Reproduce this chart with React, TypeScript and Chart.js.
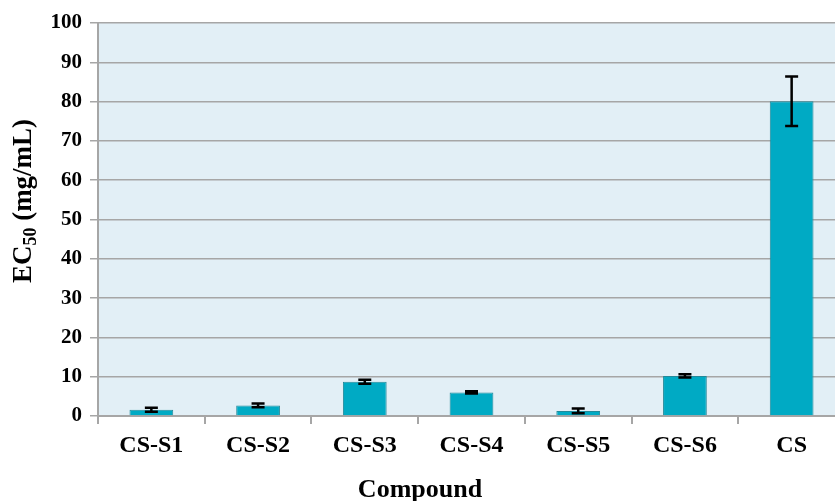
import React, { useEffect, useRef } from "react";
import { Chart, registerables } from "chart.js";

Chart.register(...registerables);

const categories = ["CS-S1", "CS-S2", "CS-S3", "CS-S4", "CS-S5", "CS-S6", "CS"];
const ec50Values = [1.6, 2.7, 8.7, 6.0, 1.3, 10.2, 80.1];
const ec50Errors = [0.5, 0.5, 0.5, 0.3, 0.6, 0.4, 6.3];
const yTicks = [0, 10, 20, 30, 40, 50, 60, 70, 80, 90, 100];

const SERIF = '"Liberation Serif", "Times New Roman", serif';

const plotBackground = {
  id: "plotBackground",
  beforeDraw(chart: any) {
    const { ctx, chartArea } = chart;
    ctx.save();
    ctx.fillStyle = "#E2EFF6";
    ctx.fillRect(chartArea.left, chartArea.top, chartArea.right - chartArea.left, chartArea.bottom - chartArea.top);
    ctx.restore();
  },
};

const errorBars = {
  id: "errorBars",
  afterDatasetsDraw(chart: any) {
    const { ctx } = chart;
    const meta = chart.getDatasetMeta(0);
    const y = chart.scales.y;
    ctx.save();
    ctx.strokeStyle = "#000";
    ctx.lineWidth = 2.5;
    meta.data.forEach((bar: any, i: number) => {
      const v = ec50Values[i];
      const e = ec50Errors[i];
      const top = y.getPixelForValue(v + e);
      const bot = y.getPixelForValue(v - e);
      const half = 6.5;
      ctx.beginPath();
      ctx.moveTo(bar.x, top);
      ctx.lineTo(bar.x, bot);
      ctx.moveTo(bar.x - half, top);
      ctx.lineTo(bar.x + half, top);
      ctx.moveTo(bar.x - half, bot);
      ctx.lineTo(bar.x + half, bot);
      ctx.stroke();
    });
    ctx.restore();
  },
};

const axisTitles = {
  id: "axisTitles",
  afterDraw(chart: any) {
    const { ctx } = chart;
    ctx.save();
    ctx.fillStyle = "#000";
    // x-axis title
    ctx.font = `bold 26px ${SERIF}`;
    ctx.textAlign = "center";
    ctx.textBaseline = "middle";
    ctx.fillText("Compound", 420, 490);

    // y-axis title with subscript
    const main = `bold 27px ${SERIF}`;
    const sub = `bold 18px ${SERIF}`;
    ctx.font = main;
    const w1 = ctx.measureText("EC").width;
    const w3 = ctx.measureText(" (mg/mL)").width;
    ctx.font = sub;
    const w2 = ctx.measureText("50").width;
    const total = w1 + w2 + w3;
    ctx.translate(31, 201);
    ctx.rotate(-Math.PI / 2);
    ctx.textAlign = "left";
    ctx.textBaseline = "alphabetic";
    let x = -total / 2;
    ctx.font = main;
    ctx.fillText("EC", x, 0);
    x += w1;
    ctx.font = sub;
    ctx.fillText("50", x, 5);
    x += w2;
    ctx.font = main;
    ctx.fillText(" (mg/mL)", x, 0);
    ctx.restore();
  },
};

export default function App() {
  const canvasRef = useRef<HTMLCanvasElement>(null);

  useEffect(() => {
    const canvas = canvasRef.current;
    if (!canvas) return;
    const chart = new Chart(canvas, {
      type: "bar",
      data: {
        labels: categories,
        datasets: [
          {
            data: ec50Values,
            backgroundColor: "#00AAC4",
            borderColor: "#23899A",
            borderWidth: 1,
            categoryPercentage: 1,
            barPercentage: 0.41,
          },
        ],
      },
      options: {
        animation: false,
        responsive: false,
        maintainAspectRatio: false,
        layout: { padding: { left: 0, top: 23, right: 5, bottom: 0 } },
        plugins: {
          legend: { display: false },
          tooltip: { enabled: false },
        },
        scales: {
          x: {
            grid: {
              display: true,
              drawOnChartArea: false,
              drawTicks: true,
              tickLength: 8,
              color: "#a6a6a6",
              lineWidth: 2,
              offset: true,
            },
            border: { color: "#a6a6a6", width: 2 },
            ticks: {
              color: "#000",
              font: { family: SERIF, size: 24, weight: "bold" },
              padding: 7,
              maxRotation: 0,
            },
            afterFit(axis: any) {
              axis.height = 85;
            },
          },
          y: {
            min: 0,
            max: 100,
            afterBuildTicks(axis: any) {
              axis.ticks = yTicks.map((v) => ({ value: v }));
            },
            grid: {
              color: "#a6a6a6",
              lineWidth: 1.5,
              tickLength: 8,
            },
            border: { color: "#a6a6a6", width: 2 },
            ticks: {
              color: "#000",
              font: { family: SERIF, size: 21, weight: "bold" },
              padding: 8,
            },
            afterFit(axis: any) {
              axis.width = 98;
            },
          },
        },
      },
      plugins: [plotBackground, errorBars, axisTitles],
    });
    return () => chart.destroy();
  }, []);

  return (
    <div
      style={{
        position: "fixed",
        left: 0,
        top: 0,
        width: 835,
        height: 501,
        overflow: "hidden",
        background: "#fff",
      }}
    >
      <canvas ref={canvasRef} width={850} height={501} style={{ display: "block" }} />
    </div>
  );
}
